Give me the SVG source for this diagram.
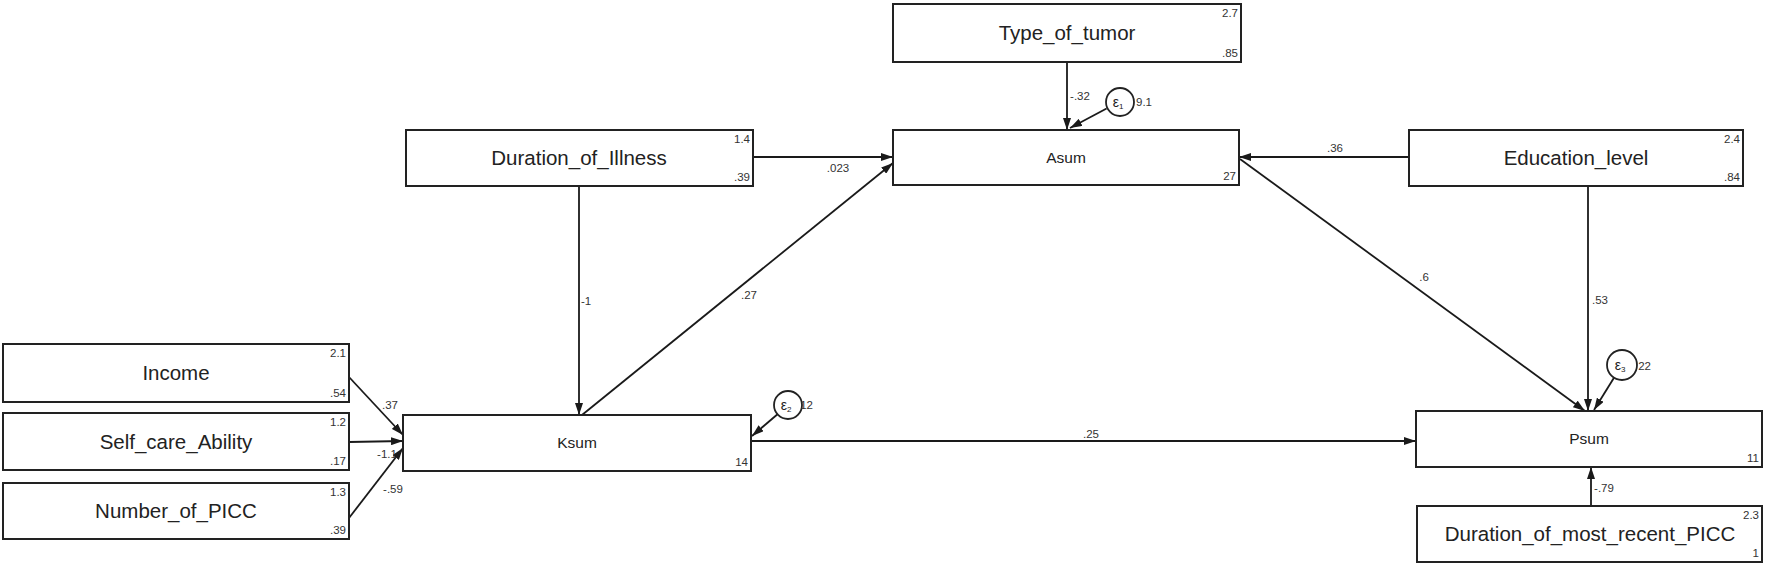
<svg xmlns="http://www.w3.org/2000/svg" width="1772" height="572" viewBox="0 0 1772 572">
<style>
.box{fill:#fff;stroke:#222;stroke-width:2}
.big{font-family:"Liberation Sans",Arial,sans-serif;font-size:20.5px;fill:#222;text-anchor:middle}
.mid{font-family:"Liberation Sans",Arial,sans-serif;font-size:15.5px;fill:#222;text-anchor:middle}
.num{font-family:"Liberation Sans",Arial,sans-serif;font-size:11.5px;fill:#333;text-anchor:end}
.lab{font-family:"Liberation Sans",Arial,sans-serif;font-size:11.5px;fill:#333;text-anchor:middle}
.edge{stroke:#1a1a1a;stroke-width:1.8;fill:none;marker-end:url(#ah)}
.err{fill:#fff;stroke:#222;stroke-width:1.8}
.eps{font-family:"Liberation Sans",Arial,sans-serif;font-size:14px;fill:#222;text-anchor:middle}
</style>
<defs>
<marker id="ah" markerUnits="userSpaceOnUse" markerWidth="12" markerHeight="8" refX="12" refY="4" orient="auto">
<path d="M0,0 L12,4 L0,8 z" fill="#1a1a1a"/>
</marker>
</defs>
<rect width="1772" height="572" fill="#fff"/>
<g id="connectors">
<line class="edge" x1="1067" y1="62" x2="1067" y2="130"/>
<line class="edge" x1="1106.6" y1="108.5" x2="1070" y2="128"/>
<line class="edge" x1="753" y1="157" x2="893" y2="157"/>
<line class="edge" x1="582" y1="415" x2="893" y2="163"/>
<line class="edge" x1="1409" y1="157" x2="1239" y2="157"/>
<line class="edge" x1="579" y1="186" x2="579" y2="415"/>
<line class="edge" x1="349" y1="377" x2="403" y2="435"/>
<line class="edge" x1="349" y1="442" x2="403" y2="441"/>
<line class="edge" x1="349" y1="518" x2="403" y2="448"/>
<line class="edge" x1="777.5" y1="414.3" x2="752" y2="436"/>
<line class="edge" x1="751" y1="441" x2="1416" y2="441"/>
<line class="edge" x1="1240" y1="159" x2="1585" y2="411"/>
<line class="edge" x1="1588" y1="186" x2="1588" y2="411"/>
<line class="edge" x1="1614" y1="377.7" x2="1594" y2="410"/>
<line class="edge" x1="1591" y1="506" x2="1591" y2="467"/>
<text class="lab" x="1080" y="100">-.32</text>
<text class="lab" x="838" y="172">.023</text>
<text class="lab" x="1335" y="152">.36</text>
<text class="lab" x="586" y="305">-1</text>
<text class="lab" x="749" y="299">.27</text>
<text class="lab" x="390" y="409">.37</text>
<text class="lab" x="387" y="458">-1.1</text>
<text class="lab" x="393" y="493">-.59</text>
<text class="lab" x="1091" y="438">.25</text>
<text class="lab" x="1424" y="281">.6</text>
<text class="lab" x="1600" y="304">.53</text>
<text class="lab" x="1604" y="492">-.79</text>
</g>
<g id="e1">
<circle class="err" cx="1120" cy="102" r="14"/>
<text class="eps" x="1118" y="107">ε<tspan font-size="8" dy="2">1</tspan></text>
<text class="num" x="1152" y="106">9.1</text>
</g>
<g id="e2">
<circle class="err" cx="788" cy="405" r="14"/>
<text class="eps" x="786" y="410">ε<tspan font-size="8" dy="2">2</tspan></text>
<text class="num" x="813" y="409">12</text>
</g>
<g id="e3">
<circle class="err" cx="1622" cy="365" r="15"/>
<text class="eps" x="1620" y="370">ε<tspan font-size="8" dy="2">3</tspan></text>
<text class="num" x="1651" y="370">22</text>
</g>
<g id="Type_of_tumor">
<rect class="box" x="893" y="4" width="348" height="58"/>
<text class="big" x="1067" y="40">Type_of_tumor</text>
<text class="num" x="1238" y="17">2.7</text>
<text class="num" x="1238" y="57">.85</text>
</g>
<g id="Asum">
<rect class="box" x="893" y="130" width="346" height="55"/>
<text class="mid" x="1066" y="163">Asum</text>
<text class="num" x="1236" y="180">27</text>
</g>
<g id="Duration_of_Illness">
<rect class="box" x="406" y="130" width="347" height="56"/>
<text class="big" x="579" y="165">Duration_of_Illness</text>
<text class="num" x="750" y="143">1.4</text>
<text class="num" x="750" y="181">.39</text>
</g>
<g id="Education_level">
<rect class="box" x="1409" y="130" width="334" height="56"/>
<text class="big" x="1576" y="165">Education_level</text>
<text class="num" x="1740" y="143">2.4</text>
<text class="num" x="1740" y="181">.84</text>
</g>
<g id="Income">
<rect class="box" x="3" y="344" width="346" height="58"/>
<text class="big" x="176" y="380">Income</text>
<text class="num" x="346" y="357">2.1</text>
<text class="num" x="346" y="397">.54</text>
</g>
<g id="Self_care_Ability">
<rect class="box" x="3" y="413" width="346" height="57"/>
<text class="big" x="176" y="449">Self_care_Ability</text>
<text class="num" x="346" y="426">1.2</text>
<text class="num" x="346" y="465">.17</text>
</g>
<g id="Number_of_PICC">
<rect class="box" x="3" y="483" width="346" height="56"/>
<text class="big" x="176" y="518">Number_of_PICC</text>
<text class="num" x="346" y="496">1.3</text>
<text class="num" x="346" y="534">.39</text>
</g>
<g id="Ksum">
<rect class="box" x="403" y="415" width="348" height="56"/>
<text class="mid" x="577" y="448">Ksum</text>
<text class="num" x="748" y="466">14</text>
</g>
<g id="Psum">
<rect class="box" x="1416" y="411" width="346" height="56"/>
<text class="mid" x="1589" y="444">Psum</text>
<text class="num" x="1759" y="462">11</text>
</g>
<g id="Duration_of_most_recent_PICC">
<rect class="box" x="1417" y="506" width="345" height="56"/>
<text class="big" x="1590" y="541">Duration_of_most_recent_PICC</text>
<text class="num" x="1759" y="519">2.3</text>
<text class="num" x="1759" y="557">1</text>
</g>
</svg>
